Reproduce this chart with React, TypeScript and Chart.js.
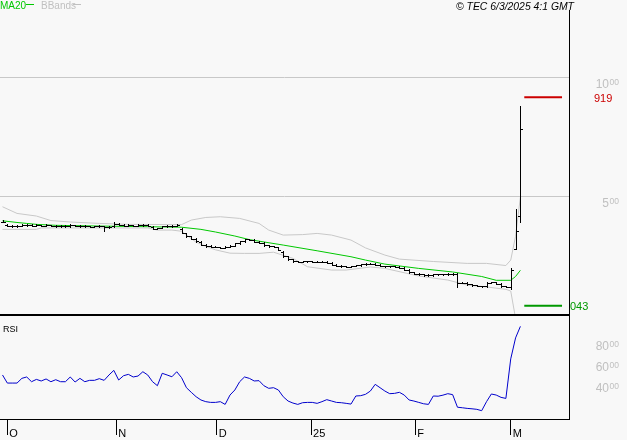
import React, { useEffect, useRef } from "react";
import { Chart, registerables } from "chart.js";

Chart.register(...registerables);

// ---- data (bar index 0 = 30 Sep 2024, one bar per trading day) ----
const opens = [
  3.95, 3.84, 3.80, 3.78, 3.80, 3.82, 3.84, 3.80, 3.82, 3.80,
  3.82, 3.80, 3.78, 3.80, 3.78, 3.82, 3.80, 3.78, 3.78, 3.76,
  3.78, 3.78, 3.72, 3.78, 3.88, 3.84, 3.80, 3.82, 3.80, 3.82,
  3.84, 3.76, 3.66, 3.70, 3.78, 3.78, 3.80, 3.66, 3.48, 3.35,
  3.24, 3.12, 3.00, 2.94, 2.92, 2.90, 2.86, 2.92, 2.96, 3.05,
  3.14, 3.22, 3.20, 3.12, 3.08, 2.98, 2.94, 2.90, 2.70, 2.50,
  2.39, 2.30, 2.27, 2.30, 2.30, 2.27, 2.27, 2.27, 2.23, 2.16,
  2.12, 2.08, 2.06, 2.10, 2.14, 2.18, 2.20, 2.20, 2.16, 2.10,
  2.08, 2.08, 2.06, 2.03, 1.95, 1.83, 1.78, 1.75, 1.72, 1.72,
  1.75, 1.75, 1.75, 1.76, 1.75, 1.40, 1.39, 1.34, 1.30, 1.26,
  1.24, 1.39, 1.41, 1.36, 1.24, 1.22, 2.82, 4.20,
];
const highs = [
  4.02, 3.86, 3.83, 3.83, 3.85, 3.87, 3.86, 3.85, 3.84, 3.85,
  3.84, 3.82, 3.83, 3.82, 3.85, 3.84, 3.82, 3.81, 3.80, 3.80,
  3.81, 3.80, 3.78, 3.93, 3.90, 3.86, 3.85, 3.84, 3.85, 3.87,
  3.86, 3.78, 3.70, 3.80, 3.81, 3.82, 3.87, 3.68, 3.50, 3.37,
  3.26, 3.14, 3.02, 2.97, 2.95, 2.92, 2.95, 2.97, 3.08, 3.17,
  3.25, 3.25, 3.22, 3.14, 3.10, 3.00, 2.96, 2.92, 2.72, 2.52,
  2.41, 2.33, 2.32, 2.33, 2.32, 2.30, 2.30, 2.29, 2.25, 2.18,
  2.14, 2.10, 2.12, 2.16, 2.20, 2.22, 2.23, 2.22, 2.18, 2.12,
  2.10, 2.10, 2.08, 2.05, 1.97, 1.85, 1.80, 1.77, 1.75, 1.77,
  1.78, 1.78, 1.79, 1.79, 1.81, 1.43, 1.41, 1.36, 1.32, 1.28,
  1.41, 1.44, 1.43, 1.38, 1.26, 2.02, 4.50, 8.82,
];
const lows = [
  3.93, 3.78, 3.76, 3.76, 3.78, 3.80, 3.78, 3.78, 3.78, 3.78,
  3.78, 3.76, 3.76, 3.76, 3.76, 3.78, 3.76, 3.75, 3.74, 3.74,
  3.76, 3.58, 3.70, 3.76, 3.82, 3.78, 3.78, 3.78, 3.78, 3.80,
  3.78, 3.64, 3.64, 3.68, 3.76, 3.76, 3.78, 3.48, 3.33, 3.22,
  3.12, 2.98, 2.92, 2.90, 2.88, 2.84, 2.84, 2.90, 2.94, 3.03,
  3.12, 3.18, 3.10, 3.06, 2.96, 2.92, 2.88, 2.76, 2.48, 2.37,
  2.28, 2.25, 2.25, 2.28, 2.25, 2.25, 2.25, 2.21, 2.14, 2.10,
  2.06, 2.04, 2.04, 2.08, 2.12, 2.16, 2.18, 2.14, 2.08, 2.06,
  2.06, 2.04, 2.01, 1.93, 1.81, 1.76, 1.73, 1.70, 1.70, 1.70,
  1.73, 1.73, 1.73, 1.73, 1.20, 1.37, 1.32, 1.28, 1.24, 1.22,
  1.22, 1.37, 1.34, 1.22, 1.20, 1.13, 2.82, 3.95,
];
const closes = [
  3.97, 3.80, 3.78, 3.80, 3.82, 3.84, 3.80, 3.82, 3.80, 3.82,
  3.80, 3.78, 3.80, 3.78, 3.82, 3.80, 3.78, 3.78, 3.76, 3.78,
  3.78, 3.72, 3.76, 3.88, 3.84, 3.80, 3.82, 3.80, 3.82, 3.84,
  3.80, 3.66, 3.68, 3.78, 3.78, 3.80, 3.84, 3.50, 3.35, 3.24,
  3.14, 3.00, 2.94, 2.92, 2.90, 2.86, 2.92, 2.94, 3.05, 3.14,
  3.22, 3.20, 3.12, 3.08, 2.98, 2.94, 2.90, 2.78, 2.50, 2.39,
  2.30, 2.27, 2.30, 2.30, 2.27, 2.27, 2.27, 2.23, 2.16, 2.12,
  2.08, 2.06, 2.10, 2.14, 2.18, 2.20, 2.20, 2.16, 2.10, 2.08,
  2.08, 2.06, 2.03, 1.95, 1.83, 1.78, 1.75, 1.72, 1.72, 1.75,
  1.75, 1.75, 1.76, 1.75, 1.40, 1.39, 1.34, 1.30, 1.26, 1.24,
  1.39, 1.41, 1.36, 1.24, 1.22, 1.95, 3.57, 7.84,
];
const rsiValues = [
  46.7, 39, 39, 39, 43.5, 44.8, 40.3, 42.5, 41, 42.9,
  40.3, 42.2, 40.3, 40.3, 44.8, 40, 43.5, 40.3, 41.6, 41.6,
  43.2, 41.6, 46.7, 51.1, 41.9, 46, 47.3, 44.8, 45.7, 49.8,
  46.7, 40.3, 36.5, 48.3, 46.7, 45, 49.8, 44.1, 34.6, 30.2,
  26, 22.9, 21.3, 20.6, 20.6, 21.3, 18.7, 27.6, 32.4, 40.3,
  44.8, 43.5, 41, 41.3, 36.5, 34, 34.6, 32.4, 26, 21.9,
  20, 18.7, 20.3, 20.6, 20.6, 19.7, 21.3, 23.2, 21.9, 20.6,
  20.3, 19.7, 19, 26.7, 27, 28.3, 31.4, 37.8, 34.6, 31.4,
  28.9, 29.2, 30.2, 27.6, 22.9, 21.9, 20.6, 19.3, 18.7, 26.7,
  26.5, 27.5, 28.9, 28.0, 16.0, 15.5, 14.9, 14.5, 14.0, 12.7,
  21.3, 28.6, 27.6, 25.4, 24.4, 62, 82, 93,
];
const maIdx = [0, 3, 5, 7, 11, 20, 30, 37, 41, 44, 48, 51, 58, 65, 72, 75, 79, 86, 93, 99, 102, 105, 106, 107];
const maVal = [4.00, 3.93, 3.89, 3.85, 3.81, 3.78, 3.75, 3.73, 3.64, 3.53, 3.36, 3.21, 2.98, 2.74, 2.49, 2.35, 2.18, 2.00, 1.85, 1.66, 1.50, 1.50, 1.66, 1.92];
const bbUpIdx = [0, 3, 7, 10, 14, 20, 26, 37, 39, 42, 45, 49, 53, 55, 58, 62, 65, 68, 72, 75, 79, 82, 89, 96, 100, 104, 105, 106, 107];
const bbUpVal = [4.59, 4.31, 4.20, 4.01, 3.95, 3.89, 3.85, 3.84, 4.03, 4.14, 4.17, 4.10, 3.89, 3.61, 3.40, 3.42, 3.47, 3.40, 3.19, 2.86, 2.56, 2.39, 2.29, 2.21, 2.21, 2.12, 2.35, 3.35, 5.00];
const bbLoIdx = [0, 7, 8, 30, 32, 35, 37, 40, 42, 44, 47, 50, 53, 56, 60, 63, 68, 71, 76, 79, 86, 92, 96, 100, 104, 105, 106, 107];
const bbLoVal = [3.64, 3.64, 3.70, 3.70, 3.61, 3.61, 3.56, 3.10, 2.93, 2.78, 2.64, 2.63, 2.63, 2.68, 2.42, 2.07, 1.93, 1.93, 2.06, 2.00, 1.68, 1.51, 1.30, 1.22, 1.12, 1.05, -0.10, -2.00];
const tickIdx = [1, 23.5, 44.25, 63.75, 85.25, 105];
const tickLabels = ["O", "N", "D", "25", "F", "M"];
const priceTicks = [5, 10];
const rsiTicks = [40, 60, 80];
const periodHigh = 9.19;
const periodLow = 0.43;
const levelFrom = 107.8;
const levelTo = 115.6;
const copyrightText = "\u00a9 TEC 6/3/2025 4:1 GMT";

const FONT = '"Liberation Sans", Arial, Helvetica, sans-serif';

function drawPriceLabel(ctx: CanvasRenderingContext2D, v: number, y: number, right: number) {
  const [ip, dp] = v.toFixed(2).split(".");
  ctx.font = `8.5px ${FONT}`;
  const sw = ctx.measureText(dp).width;
  ctx.fillText(dp, right - sw, y + 7);
  ctx.font = `12px ${FONT}`;
  const bw = ctx.measureText(ip).width;
  ctx.fillText(ip, right - sw - bw - 0.5, y + 10);
}

const ohlcPlugin = {
  id: "ohlcBars",
  afterDatasetsDraw(chart: any) {
    const xs = chart.scales.x;
    const ys = chart.scales.y;
    const ctx: CanvasRenderingContext2D = chart.ctx;
    const area = chart.chartArea;
    ctx.save();
    ctx.beginPath();
    ctx.rect(area.left, ys.top, area.right - area.left, ys.bottom - ys.top);
    ctx.clip();
    ctx.fillStyle = "#000";
    for (let i = 0; i < closes.length; i++) {
      const px = Math.round(xs.getPixelForValue(i));
      const yh = Math.round(ys.getPixelForValue(highs[i]));
      const yl = Math.round(ys.getPixelForValue(lows[i]));
      const yo = Math.round(ys.getPixelForValue(opens[i]));
      const yc = Math.round(ys.getPixelForValue(closes[i]));
      ctx.fillRect(px, yh, 1, Math.max(1, yl - yh + 1));
      ctx.fillRect(px - 2, yo, 2, 1);
      ctx.fillRect(px + 1, yc, 2, 1);
    }
    ctx.restore();
  },
};

const decorPlugin = {
  id: "decor",
  afterDraw(chart: any) {
    const ctx: CanvasRenderingContext2D = chart.ctx;
    const area = chart.chartArea;
    const ys = chart.scales.y;
    const rs = chart.scales.yRsi;
    ctx.save();
    // thick separator between price pane and RSI pane
    ctx.fillStyle = "#000";
    ctx.fillRect(area.left, Math.round(ys.bottom) - 1, area.right - area.left + 1, 2);

    // axis labels
    ctx.fillStyle = "#c0c0c0";
    ctx.textBaseline = "alphabetic";
    ctx.textAlign = "left";
    for (const v of priceTicks) drawPriceLabel(ctx, v, ys.getPixelForValue(v), 619);
    for (const v of rsiTicks) drawPriceLabel(ctx, v, rs.getPixelForValue(v), 619);

    // period high / low labels
    ctx.font = `11px ${FONT}`;
    ctx.fillStyle = "#cc0000";
    ctx.fillText(periodHigh.toFixed(2).replace(".", ""), 594, ys.getPixelForValue(periodHigh) + 4.5);
    ctx.fillStyle = "#009900";
    ctx.fillText(periodLow.toFixed(2).replace(".", ""), 570, ys.getPixelForValue(periodLow) + 4.5);

    // legend
    ctx.font = `10px ${FONT}`;
    ctx.fillStyle = "#00c800";
    ctx.fillText("MA20", 0, 9);
    ctx.fillRect(26, 4, 8, 1);
    ctx.fillStyle = "#c0c0c0";
    ctx.fillText("BBands", 41, 9);
    ctx.fillRect(73, 4, 8, 1);

    // copyright
    ctx.fillStyle = "#000";
    ctx.font = `italic 10.4px ${FONT}`;
    ctx.fillText(copyrightText, 456, 9.5);

    // RSI pane title
    ctx.font = `9px ${FONT}`;
    ctx.fillText("RSI", 3, 331.5);
    ctx.restore();
  },
};

export default function App() {
  const ref = useRef<HTMLCanvasElement>(null);
  useEffect(() => {
    const canvas = ref.current;
    if (!canvas) return;
    Chart.defaults.font.family = FONT;
    const pts = (idx: number[], vals: number[]) => idx.map((x, k) => ({ x, y: vals[k] }));
    const chart = new Chart(canvas, {
      type: "line",
      data: {
        datasets: [
          { label: "BB upper", data: pts(bbUpIdx, bbUpVal), yAxisID: "y", borderColor: "#c8c8c8", borderWidth: 1, pointRadius: 0, tension: 0 },
          { label: "BB lower", data: pts(bbLoIdx, bbLoVal), yAxisID: "y", borderColor: "#c8c8c8", borderWidth: 1, pointRadius: 0, tension: 0 },
          { label: "MA20", data: pts(maIdx, maVal), yAxisID: "y", borderColor: "#00c800", borderWidth: 1, pointRadius: 0, tension: 0 },
          { label: "High", data: [{ x: levelFrom, y: periodHigh }, { x: levelTo, y: periodHigh }], yAxisID: "y", borderColor: "#cc0000", borderWidth: 2, pointRadius: 0 },
          { label: "Low", data: [{ x: levelFrom, y: periodLow }, { x: levelTo, y: periodLow }], yAxisID: "y", borderColor: "#009900", borderWidth: 2, pointRadius: 0 },
          { label: "RSI", data: rsiValues.map((v, i) => ({ x: i, y: v })), yAxisID: "yRsi", borderColor: "#0000cc", borderWidth: 1, pointRadius: 0, tension: 0 },
        ],
      },
      options: {
        responsive: false,
        animation: false,
        devicePixelRatio: 1,
        events: [],
        layout: { padding: { top: 10, left: 0, right: 0, bottom: 0 } },
        plugins: { legend: { display: false }, tooltip: { enabled: false } },
        scales: {
          x: {
            type: "linear",
            axis: "x",
            position: "bottom",
            min: -0.517,
            max: 117.04,
            afterBuildTicks: (s: any) => {
              s.ticks = tickIdx.map((v) => ({ value: v }));
            },
            afterFit: (s: any) => {
              s.height = 21;
            },
            ticks: {
              autoSkip: false,
              maxRotation: 0,
              minRotation: 0,
              align: "start",
              labelOffset: 2,
              padding: -8,
              color: "#000",
              font: { size: 11, family: FONT },
              callback: (_v: any, i: number) => tickLabels[i],
            },
            grid: { drawOnChartArea: false, drawTicks: true, tickLength: 16, color: "#000", lineWidth: 1 },
            border: { display: true, color: "#000", width: 1 },
          },
          y: {
            type: "linear",
            axis: "y",
            position: "right",
            stack: "panes",
            stackWeight: 305,
            min: 0.042,
            max: 12.857,
            afterBuildTicks: (s: any) => {
              s.ticks = priceTicks.map((v) => ({ value: v }));
            },
            afterFit: (s: any) => {
              s.width = 58;
            },
            ticks: { display: false },
            grid: { color: "#c8c8c8", drawTicks: false, lineWidth: 1 },
            border: { display: true, color: "#000", width: 1 },
          },
          yRsi: {
            type: "linear",
            axis: "y",
            position: "right",
            stack: "panes",
            stackWeight: 104,
            min: 4.8,
            max: 103.8,
            afterBuildTicks: (s: any) => {
              s.ticks = rsiTicks.map((v) => ({ value: v }));
            },
            afterFit: (s: any) => {
              s.width = 58;
            },
            ticks: { display: false },
            grid: { display: false },
            border: { display: true, color: "#000", width: 1 },
          },
        },
      } as any,
      plugins: [ohlcPlugin, decorPlugin],
    });
    return () => chart.destroy();
  }, []);

  return (
    <div style={{ position: "absolute", left: 0, top: 0, width: 627, height: 440, background: "#f8f8f8" }}>
      <canvas ref={ref} width={627} height={440} style={{ display: "block", width: 627, height: 440 }} />
    </div>
  );
}
